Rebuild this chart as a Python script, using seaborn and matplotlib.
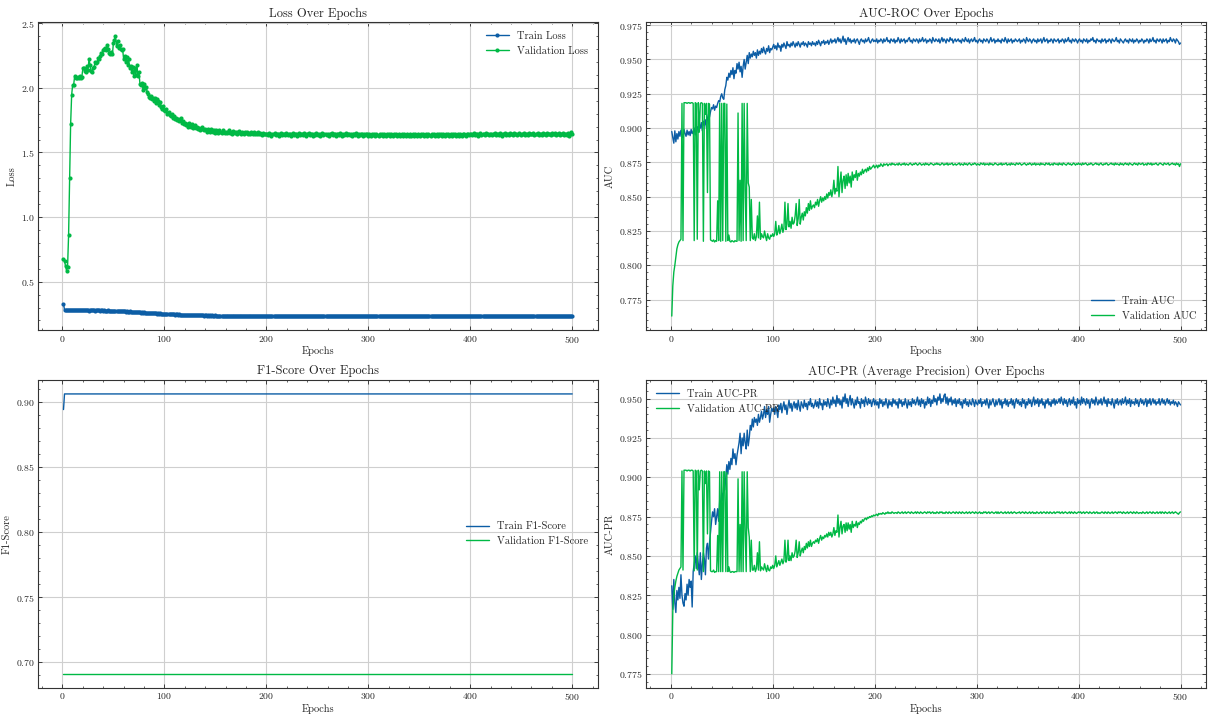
import numpy as np
import pandas as pd
import matplotlib
matplotlib.use("Agg")
import matplotlib.pyplot as plt
from matplotlib.ticker import AutoMinorLocator
import seaborn as sns

# ---------------- data ----------------
# loss values in thousandths, AUC / PR values in ten-thousandths
train_loss_milli = [
    330,281,279,280,278,281,279,280,282,279,280,278,281,280,279,281,278,280,282,279,
    280,278,281,279,280,277,279,281,278,280,279,277,280,278,279,281,277,279,278,276,
    278,276,277,275,278,276,274,277,275,273,276,274,272,275,273,271,274,272,270,271,
    270,268,271,269,267,270,266,268,265,267,264,266,263,265,262,264,261,263,260,262,
    259,261,258,260,257,259,256,258,255,257,254,256,253,255,252,254,251,253,250,252,
    250,251,249,250,248,250,247,249,248,246,248,247,245,247,246,244,246,245,243,245,
    244,243,245,242,244,243,241,243,242,240,242,241,240,242,240,239,241,240,238,240,
    239,238,240,238,239,237,239,238,237,239,237,238,236,238,237,236,238,237,236,237,
    236,238,236,237,235,237,236,238,235,237,236,237,235,236,238,236,235,237,236,235,
    237,235,236,238,236,235,237,236,234,236,237,235,236,234,237,235,236,235,237,234,
    236,235,237,236,234,236,235,237,235,236,234,236,237,235,236,234,236,235,237,236,
    234,236,235,237,235,234,236,235,237,234,236,235,236,234,237,235,236,234,236,235,
    237,235,236,234,236,237,235,236,234,235,237,236,234,236,235,237,235,236,234,236,
    235,237,234,236,235,236,234,237,235,236,235,234,236,237,235,234,236,235,237,235,
    236,234,235,237,236,235,234,236,235,237,234,236,235,236,237,235,234,236,235,236,
    234,236,237,235,236,234,235,237,236,235,234,236,235,237,235,236,234,235,237,236,
    235,236,234,237,235,236,235,234,236,237,235,236,234,235,236,237,235,234,236,235,
    237,235,236,234,236,235,237,236,234,235,236,237,235,236,234,236,235,237,235,236,
    234,236,235,237,235,236,234,235,237,236,235,234,236,235,237,236,234,236,235,237,
    235,236,234,236,237,235,236,234,235,237,236,235,234,236,235,236,237,235,234,236,
    236,235,237,235,234,236,235,237,236,234,235,236,237,235,236,234,236,235,237,235,
    234,236,235,236,237,235,234,236,235,237,236,234,235,236,235,237,234,236,235,236,
    237,235,236,234,235,237,236,235,234,236,237,235,236,234,236,235,237,235,236,234,
    236,235,237,236,234,235,236,237,235,234,236,235,237,236,235,234,236,237,235,236,
    235,237,234,236,235,236,237,235,234,236,235,237,236,234,235,236,237,235,236,237,
]
val_loss_milli = [
    675,660,620,585,615,860,1300,1720,1945,2025,2025,2095,2075,2080,2085,2075,2090,2080,2085,2150,
    2150,2130,2120,2170,2140,2220,2180,2130,2120,2150,2160,2200,2190,2200,2230,2220,2250,2270,2260,2290,
    2300,2310,2290,2330,2300,2270,2260,2280,2260,2350,2370,2400,2320,2360,2310,2330,2300,2290,2300,2220,
    2250,2200,2240,2180,2220,2150,2170,2120,2160,2090,2150,2100,2180,2090,2120,2030,2020,2040,1980,2030,
    2000,2010,1970,1950,1930,1920,1940,1910,1920,1900,1920,1880,1910,1900,1870,1890,1850,1840,1860,1830,
    1820,1840,1800,1810,1790,1780,1800,1770,1780,1760,1770,1750,1760,1740,1750,1770,1730,1740,1720,1730,
    1710,1720,1700,1730,1710,1700,1720,1690,1700,1710,1690,1700,1680,1690,1670,1680,1700,1680,1670,1680,
    1670,1660,1680,1670,1660,1680,1670,1660,1670,1650,1670,1660,1650,1670,1660,1650,1670,1660,1650,1660,
    1650,1660,1670,1650,1660,1645,1665,1655,1650,1660,1645,1655,1665,1650,1645,1660,1650,1640,1655,1650,
    1660,1645,1650,1640,1655,1650,1645,1660,1640,1650,1645,1655,1640,1650,1645,1635,1650,1640,1645,1640,
    1645,1635,1650,1640,1630,1645,1640,1650,1635,1645,1640,1630,1645,1650,1635,1640,1645,1635,1650,1640,
    1635,1645,1640,1630,1645,1650,1635,1640,1645,1630,1640,1650,1635,1645,1640,1635,1650,1640,1630,1645,
    1640,1650,1635,1645,1640,1630,1645,1635,1650,1640,1635,1645,1630,1640,1650,1635,1645,1640,1635,1645,
    1630,1645,1640,1650,1635,1640,1645,1630,1640,1645,1635,1650,1640,1630,1645,1635,1640,1650,1635,1640,
    1645,1635,1640,1630,1645,1640,1635,1650,1640,1630,1645,1635,1640,1645,1630,1640,1635,1645,1640,1630,
    1640,1635,1630,1645,1635,1640,1630,1645,1635,1625,1640,1635,1645,1630,1640,1635,1630,1645,1635,1640,
    1630,1640,1635,1625,1640,1635,1645,1630,1635,1640,1625,1635,1645,1630,1640,1635,1630,1640,1635,1625,
    1640,1630,1635,1645,1630,1640,1635,1625,1640,1635,1630,1645,1635,1640,1630,1635,1645,1630,1640,1635,
    1630,1640,1635,1645,1630,1635,1640,1625,1640,1635,1645,1630,1640,1635,1630,1645,1635,1640,1630,1635,
    1640,1630,1645,1635,1640,1630,1635,1645,1630,1640,1635,1630,1645,1640,1635,1630,1640,1645,1635,1640,
    1645,1635,1640,1650,1635,1640,1645,1630,1640,1650,1635,1645,1640,1635,1650,1640,1645,1635,1640,1645,
    1635,1645,1640,1650,1635,1640,1645,1635,1650,1640,1630,1645,1640,1650,1635,1645,1640,1635,1650,1640,
    1645,1635,1650,1640,1645,1635,1640,1650,1645,1635,1640,1645,1650,1635,1640,1645,1635,1650,1640,1645,
    1640,1650,1635,1645,1640,1650,1635,1645,1640,1635,1650,1640,1645,1635,1650,1640,1645,1640,1635,1650,
    1645,1640,1650,1635,1645,1640,1650,1635,1640,1645,1650,1635,1640,1645,1635,1650,1625,1640,1655,1645,
]
train_auc_e4 = [
    8975,8930,8890,8980,8900,8960,8920,8975,8940,8985,8950,8930,8990,8960,8940,8985,8950,8975,8945,8990,
    8960,8975,9000,8950,8990,9010,8970,9030,9000,9040,8980,9050,9020,9060,9000,9070,9100,9080,9120,9150,
    9140,9170,9130,9160,9150,9180,9200,9190,9230,9250,9220,9210,9280,9310,9370,9350,9400,9370,9420,9390,
    9440,9360,9420,9400,9470,9430,9480,9410,9450,9370,9450,9500,9430,9480,9530,9470,9550,9510,9540,9520,
    9560,9530,9550,9510,9570,9530,9560,9540,9580,9550,9590,9560,9540,9580,9560,9600,9550,9580,9570,9590,
    9610,9580,9600,9570,9620,9590,9600,9560,9610,9590,9620,9600,9580,9630,9600,9610,9590,9620,9600,9630,
    9610,9590,9620,9600,9630,9610,9590,9620,9610,9630,9600,9620,9610,9590,9630,9610,9620,9600,9630,9610,
    9620,9600,9630,9610,9640,9620,9600,9630,9620,9640,9610,9630,9620,9640,9610,9630,9650,9620,9640,9630,
    9650,9620,9640,9660,9630,9650,9620,9640,9670,9630,9650,9610,9640,9660,9630,9650,9620,9640,9630,9650,
    9620,9640,9650,9630,9610,9640,9650,9630,9640,9620,9650,9630,9640,9660,9630,9620,9640,9650,9630,9640,
    9630,9650,9620,9640,9630,9650,9640,9620,9650,9630,9640,9660,9630,9640,9620,9650,9640,9630,9650,9620,
    9640,9630,9660,9640,9620,9650,9630,9640,9650,9620,9640,9630,9650,9660,9630,9640,9620,9650,9640,9630,
    9650,9640,9620,9650,9630,9640,9660,9630,9640,9650,9620,9640,9630,9650,9640,9620,9660,9640,9630,9650,
    9640,9630,9650,9620,9640,9660,9630,9650,9640,9620,9650,9640,9630,9660,9640,9650,9620,9640,9650,9630,
    9640,9650,9630,9640,9620,9650,9640,9630,9660,9640,9630,9650,9620,9640,9650,9630,9640,9660,9630,9640,
    9620,9640,9650,9630,9640,9620,9650,9640,9630,9650,9640,9620,9640,9660,9630,9640,9650,9620,9640,9630,
    9650,9630,9640,9620,9650,9640,9630,9660,9640,9620,9650,9630,9640,9650,9620,9640,9630,9650,9640,9630,
    9640,9650,9620,9640,9630,9650,9640,9620,9660,9640,9630,9650,9640,9620,9640,9650,9630,9640,9620,9650,
    9630,9640,9650,9620,9640,9660,9630,9640,9650,9620,9640,9630,9650,9640,9620,9650,9640,9630,9640,9650,
    9620,9640,9630,9650,9640,9620,9650,9630,9640,9660,9630,9640,9620,9650,9640,9630,9650,9640,9620,9640,
    9650,9630,9640,9620,9650,9640,9630,9650,9620,9640,9630,9650,9640,9660,9630,9640,9620,9650,9640,9630,
    9640,9620,9650,9630,9640,9650,9620,9640,9630,9650,9640,9620,9650,9640,9630,9640,9660,9630,9640,9620,
    9650,9640,9630,9620,9640,9650,9630,9640,9620,9650,9640,9630,9650,9620,9640,9630,9650,9640,9620,9640,
    9630,9650,9640,9620,9640,9630,9650,9640,9620,9650,9630,9640,9660,9630,9640,9620,9650,9640,9630,9650,
    9640,9620,9650,9630,9640,9650,9620,9640,9630,9660,9640,9630,9650,9640,9620,9650,9640,9630,9610,9620,
]
val_auc_e4 = [
    7630,7850,7950,8000,8060,8120,8150,8170,8180,8190,9180,8180,9185,9185,9185,9180,9185,9185,9180,9185,
    9185,9180,8180,9185,9180,8190,9185,8970,9180,9185,9180,8175,9180,9100,9180,8530,9180,9175,8185,8180,
    8175,8185,8170,8180,8175,8470,8180,9180,8175,9180,8180,9180,9180,8175,9175,8180,8220,8175,8170,8180,
    8175,8170,8180,8175,8175,9110,8180,8620,8175,9180,8180,9180,8550,8180,9180,8600,8570,8180,8480,8200,
    8190,8230,8180,8210,8360,8200,8460,8190,8230,8210,8200,8250,8210,8180,8230,8200,8190,8220,8210,8230,
    8210,8230,8320,8220,8240,8290,8230,8260,8300,8240,8270,8460,8260,8300,8450,8280,8320,8270,8350,8300,
    8310,8360,8450,8290,8340,8480,8300,8350,8380,8330,8390,8360,8420,8380,8450,8400,8470,8410,8430,8440,
    8420,8460,8440,8480,8430,8470,8500,8460,8490,8470,8500,8480,8520,8490,8530,8510,8550,8500,8540,8620,
    8520,8560,8540,8720,8500,8600,8680,8530,8620,8650,8560,8660,8580,8670,8600,8650,8570,8680,8620,8660,
    8640,8690,8620,8670,8650,8680,8660,8700,8670,8690,8700,8680,8710,8690,8720,8700,8710,8720,8730,8710,
    8720,8730,8710,8730,8720,8740,8730,8720,8740,8730,8735,8740,8725,8735,8740,8730,8745,8735,8740,8730,
    8735,8740,8730,8745,8735,8730,8740,8735,8745,8730,8740,8735,8730,8740,8745,8735,8730,8740,8735,8745,
    8740,8730,8735,8745,8740,8730,8735,8740,8730,8745,8735,8740,8730,8735,8745,8740,8735,8730,8740,8735,
    8745,8735,8740,8730,8735,8745,8740,8730,8740,8735,8745,8730,8740,8735,8740,8745,8730,8735,8740,8730,
    8735,8740,8745,8730,8740,8735,8730,8745,8735,8740,8730,8740,8745,8735,8730,8740,8735,8745,8740,8730,
    8740,8735,8730,8745,8740,8735,8745,8730,8740,8735,8740,8730,8745,8735,8740,8730,8735,8745,8740,8735,
    8730,8740,8735,8745,8730,8740,8735,8740,8745,8730,8735,8740,8730,8745,8735,8740,8735,8730,8745,8740,
    8735,8745,8740,8730,8735,8740,8745,8735,8730,8740,8735,8745,8740,8730,8740,8735,8745,8730,8740,8735,
    8740,8730,8745,8735,8740,8735,8730,8745,8740,8735,8745,8730,8735,8740,8730,8745,8740,8735,8740,8730,
    8745,8735,8740,8730,8745,8740,8735,8730,8740,8745,8735,8740,8730,8735,8745,8740,8730,8740,8735,8745,
    8735,8740,8730,8745,8735,8740,8745,8735,8730,8740,8735,8745,8740,8730,8735,8740,8745,8735,8740,8730,
    8740,8745,8735,8730,8740,8735,8745,8740,8730,8735,8740,8745,8735,8740,8730,8745,8735,8740,8735,8730,
    8745,8735,8740,8730,8740,8745,8735,8740,8730,8745,8740,8735,8730,8740,8745,8735,8740,8730,8745,8740,
    8735,8740,8745,8730,8735,8740,8730,8745,8740,8735,8745,8730,8740,8735,8740,8745,8735,8730,8740,8745,
    8740,8735,8730,8745,8740,8735,8740,8745,8730,8735,8740,8745,8735,8740,8730,8745,8735,8740,8720,8740,
]
train_f1 = [0.894] + [0.906] * 499
val_f1 = [0.691] * 500
train_pr_e4 = [
    8310,8160,8350,8200,8140,8280,8220,8300,8230,8380,8250,8200,8180,8260,8220,8320,8250,8350,8300,8340,
    8175,8400,8450,8500,8420,8520,8450,8380,8520,8350,8450,8520,8480,8380,8550,8580,8480,8580,8650,8720,
    8780,8750,8800,8700,8750,8800,8720,8850,8820,8900,8850,8950,8920,9000,9080,9020,9100,9050,9120,9080,
    9180,9120,9150,9080,9140,9180,9220,9280,9150,9250,9200,9280,9220,9180,9300,9200,9250,9330,9300,9370,
    9320,9380,9350,9370,9330,9400,9350,9380,9420,9370,9400,9450,9380,9430,9400,9450,9350,9400,9440,9420,
    9440,9400,9450,9420,9380,9460,9430,9470,9410,9450,9480,9430,9460,9400,9450,9490,9440,9470,9420,9460,
    9480,9440,9470,9430,9490,9450,9420,9480,9460,9440,9490,9450,9470,9430,9480,9460,9500,9450,9470,9440,
    9460,9490,9450,9480,9440,9500,9460,9470,9430,9490,9460,9480,9450,9500,9470,9440,9490,9460,9510,9470,
    9490,9450,9520,9470,9500,9460,9490,9440,9510,9480,9530,9470,9500,9450,9490,9520,9460,9500,9470,9440,
    9490,9460,9510,9470,9480,9440,9500,9470,9490,9450,9510,9480,9460,9500,9470,9490,9450,9480,9500,9460,
    9490,9460,9480,9440,9500,9470,9490,9450,9480,9460,9500,9470,9440,9490,9460,9480,9450,9500,9470,9490,
    9460,9480,9440,9500,9470,9490,9450,9480,9460,9500,9470,9440,9490,9460,9480,9450,9500,9470,9490,9460,
    9480,9510,9460,9490,9450,9500,9470,9490,9440,9480,9460,9510,9470,9500,9450,9490,9470,9520,9480,9500,
    9460,9510,9490,9530,9470,9500,9480,9520,9530,9470,9510,9460,9500,9480,9510,9460,9490,9470,9500,9450,
    9490,9470,9500,9460,9480,9440,9490,9470,9500,9460,9480,9450,9490,9470,9460,9500,9480,9450,9490,9470,
    9460,9490,9470,9500,9450,9480,9470,9490,9460,9500,9470,9440,9490,9460,9480,9500,9470,9450,9490,9460,
    9480,9500,9460,9490,9440,9480,9470,9500,9460,9490,9450,9480,9470,9500,9460,9490,9440,9480,9500,9470,
    9490,9460,9480,9450,9500,9470,9490,9440,9480,9460,9500,9470,9490,9450,9480,9510,9460,9490,9470,9500,
    9450,9490,9470,9500,9460,9480,9440,9490,9470,9500,9460,9480,9450,9490,9470,9500,9460,9490,9470,9480,
    9500,9470,9510,9480,9460,9500,9470,9490,9450,9480,9500,9460,9490,9470,9510,9460,9480,9440,9500,9470,
    9490,9460,9510,9470,9500,9480,9460,9500,9470,9490,9440,9480,9500,9470,9490,9460,9510,9480,9460,9490,
    9470,9500,9460,9480,9510,9470,9490,9450,9500,9470,9480,9460,9500,9470,9440,9490,9470,9500,9460,9480,
    9490,9460,9500,9470,9480,9510,9460,9490,9470,9500,9450,9490,9470,9480,9460,9500,9470,9490,9450,9480,
    9500,9470,9490,9460,9480,9500,9450,9490,9470,9500,9460,9480,9500,9470,9490,9460,9480,9470,9500,9460,
    9480,9500,9470,9490,9460,9480,9500,9470,9490,9460,9480,9470,9490,9460,9480,9470,9450,9480,9470,9460,
]
val_pr_e4 = [
    7750,8150,8250,8300,8340,8370,8390,8410,8420,8430,9040,8410,9045,9045,9045,9040,9045,9045,9040,9045,
    9045,9040,8405,9045,9040,8410,9045,8920,9040,9045,9040,8400,9040,8960,9040,8640,9040,9035,8405,8400,
    8400,8410,8395,8400,8400,8630,8400,9035,8400,9035,8400,9035,9035,8400,9030,8400,8430,8400,8395,8400,
    8400,8395,8400,8400,8400,8990,8400,8700,8400,9035,8400,9035,8650,8400,9035,8680,8620,8400,8600,8410,
    8410,8440,8400,8420,8520,8410,8590,8405,8430,8420,8410,8450,8420,8400,8440,8410,8405,8430,8420,8440,
    8420,8440,8500,8430,8450,8470,8440,8460,8480,8450,8470,8600,8460,8480,8600,8470,8500,8470,8520,8490,
    8500,8530,8600,8490,8520,8590,8500,8530,8550,8520,8560,8540,8580,8550,8590,8560,8600,8560,8580,8590,
    8580,8600,8590,8610,8580,8610,8630,8600,8620,8610,8630,8620,8640,8620,8650,8630,8650,8620,8640,8680,
    8630,8660,8650,8760,8620,8680,8720,8640,8690,8700,8650,8710,8660,8710,8670,8700,8650,8720,8680,8700,
    8690,8720,8680,8710,8700,8720,8710,8730,8720,8735,8740,8730,8745,8740,8750,8745,8755,8750,8760,8755,
    8760,8765,8755,8770,8765,8770,8765,8775,8770,8765,8775,8770,8780,8770,8775,8770,8780,8775,8770,8775,
    8775,8770,8780,8775,8770,8775,8780,8770,8775,8780,8770,8775,8780,8775,8770,8780,8775,8770,8775,8780,
    8770,8780,8775,8770,8780,8775,8770,8775,8780,8775,8770,8780,8775,8780,8770,8775,8780,8770,8775,8770,
    8780,8775,8770,8780,8775,8780,8770,8775,8770,8780,8775,8770,8780,8775,8770,8775,8780,8775,8770,8780,
    8775,8770,8780,8775,8770,8780,8775,8770,8775,8780,8770,8775,8780,8770,8775,8780,8775,8770,8780,8775,
    8770,8775,8780,8770,8775,8770,8780,8775,8780,8770,8775,8780,8770,8775,8780,8775,8770,8775,8780,8770,
    8780,8770,8775,8780,8775,8770,8775,8780,8770,8775,8780,8770,8775,8780,8770,8775,8780,8775,8770,8775,
    8775,8780,8770,8775,8780,8775,8770,8780,8775,8770,8775,8780,8770,8775,8780,8770,8775,8770,8780,8775,
    8770,8775,8780,8770,8775,8780,8775,8770,8780,8775,8770,8780,8775,8770,8775,8780,8770,8775,8780,8775,
    8780,8770,8775,8780,8770,8775,8780,8775,8770,8775,8780,8770,8780,8775,8770,8780,8775,8770,8775,8780,
    8775,8780,8770,8775,8780,8770,8775,8780,8775,8770,8780,8775,8770,8775,8780,8770,8775,8780,8770,8775,
    8770,8775,8780,8775,8770,8780,8775,8770,8780,8775,8770,8775,8780,8770,8775,8780,8775,8770,8780,8775,
    8780,8775,8770,8780,8775,8770,8775,8780,8770,8775,8780,8775,8770,8780,8775,8770,8780,8775,8770,8775,
    8775,8770,8780,8775,8770,8775,8780,8770,8775,8780,8775,8770,8780,8775,8770,8775,8780,8770,8775,8780,
    8770,8780,8775,8770,8780,8775,8770,8775,8780,8770,8775,8780,8770,8775,8780,8775,8770,8765,8775,8780,
]

titles = ["Loss Over Epochs", "AUC-ROC Over Epochs",
          "F1-Score Over Epochs", "AUC-PR (Average Precision) Over Epochs"]
ylabels = ["Loss", "AUC", "F1-Score", "AUC-PR"]
legend_labels = [("Train Loss", "Validation Loss"), ("Train AUC", "Validation AUC"),
                 ("Train F1-Score", "Validation F1-Score"), ("Train AUC-PR", "Validation AUC-PR")]
legend_locs = ["upper right", "lower right", "center right", "upper left"]

series = [
    (np.array(train_loss_milli) / 1000, np.array(val_loss_milli) / 1000),
    (np.array(train_auc_e4) / 10000, np.array(val_auc_e4) / 10000),
    (np.array(train_f1), np.array(val_f1)),
    (np.array(train_pr_e4) / 10000, np.array(val_pr_e4) / 10000),
]

BLUE = "#0C5DA5"
GREEN = "#00B945"

# ---------------- style ----------------
sns.set_style("ticks")
plt.rcParams.update({
    "font.family": ["cmr10", "DejaVu Serif"],
    "mathtext.fontset": "cm",
    "axes.formatter.use_mathtext": True,
    "axes.unicode_minus": False,
    "axes.linewidth": 0.8,
    "axes.edgecolor": "#333333",
    "xtick.direction": "in",
    "ytick.direction": "in",
    "xtick.top": True,
    "ytick.right": True,
    "xtick.major.size": 3,
    "ytick.major.size": 3,
    "xtick.minor.size": 1.5,
    "ytick.minor.size": 1.5,
    "xtick.major.width": 0.6,
    "ytick.major.width": 0.6,
    "xtick.minor.width": 0.5,
    "ytick.minor.width": 0.5,
    "xtick.labelsize": 7,
    "ytick.labelsize": 7,
    "axes.labelsize": 7.5,
    "axes.titlesize": 9,
    "legend.fontsize": 7.5,
})

fig, axes = plt.subplots(2, 2, figsize=(12.12, 7.15), dpi=100)
fig.subplots_adjust(left=0.0314, right=0.995, top=0.969, bottom=0.038,
                    wspace=0.087, hspace=0.162)

for i, ax in enumerate(axes.flat):
    tr, va = series[i]
    ep_tr = np.arange(1, len(tr) + 1)
    ep_va = np.arange(1, len(va) + 1)
    if i == 0:
        sns.lineplot(x=ep_tr, y=tr, ax=ax, color=BLUE, label=legend_labels[i][0],
                     marker="o", markersize=3, markeredgewidth=0, linewidth=1)
        sns.lineplot(x=ep_va, y=va, ax=ax, color=GREEN, label=legend_labels[i][1],
                     marker="o", markersize=3, markeredgewidth=0, linewidth=1)
    else:
        sns.lineplot(x=ep_tr, y=tr, ax=ax, color=BLUE, label=legend_labels[i][0], linewidth=1)
        sns.lineplot(x=ep_va, y=va, ax=ax, color=GREEN, label=legend_labels[i][1], linewidth=1)
    ax.set_title(titles[i], pad=4)
    ax.set_xlabel("Epochs", labelpad=1)
    ax.set_ylabel(ylabels[i], labelpad=3)
    ax.set_xticks([0, 100, 200, 300, 400, 500])
    ax.xaxis.set_minor_locator(AutoMinorLocator())
    ax.yaxis.set_minor_locator(AutoMinorLocator())
    ax.grid(True, which="major", color="#cfcfcf", linewidth=0.8)
    ax.set_axisbelow(True)
    ax.tick_params(which="both", top=True, right=True, pad=2.5)
    ax.legend(loc=legend_locs[i], frameon=False, handlelength=2.2)

fig.savefig("out.png", dpi=100)
